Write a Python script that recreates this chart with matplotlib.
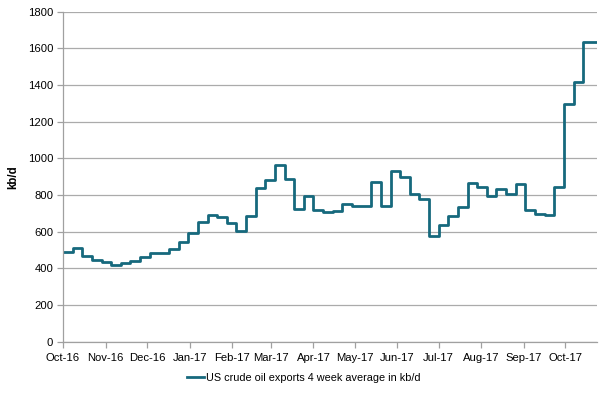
import matplotlib
matplotlib.use("Agg")
import matplotlib.pyplot as plt
import numpy as np
import datetime as dt

plt.rcParams['font.family'] = ['Liberation Sans', 'DejaVu Sans']

# weekly 4-week average of US crude oil exports, kb/d
start = dt.date(2016, 10, 1)
exports = [491, 509, 469, 446, 435, 418, 428, 442, 464, 482,
           482, 506, 545, 591, 655, 690, 682, 649, 605, 687,
           840, 882, 964, 887, 724, 797, 716, 709, 711, 750,
           740, 740, 869, 740, 929, 897, 806, 778, 578, 637,
           686, 737, 864, 846, 797, 831, 806, 860, 718, 697,
           690, 843, 1295, 1418, 1637, 1637]
weeks = [start + dt.timedelta(days=7 * i) for i in range(len(exports))]
month_labels = ["Oct-16", "Nov-16", "Dec-16", "Jan-17", "Feb-17", "Mar-17", "Apr-17",
                "May-17", "Jun-17", "Jul-17", "Aug-17", "Sep-17", "Oct-17"]
x_end = dt.date(2017, 10, 24)

fig = plt.figure(figsize=(6.06, 3.95), dpi=100)
ax = fig.add_axes([0.104, 0.135, 0.881, 0.835])

xs = weeks + [x_end]
ys = exports + [exports[-1]]
ax.step(xs, ys, where="post", color="#16697D", lw=2.0,
        label="US crude oil exports 4 week average in kb/d")

ax.set_ylim(0, 1800)
ax.set_yticks(range(0, 1801, 200))
ax.set_xlim(start, x_end)
month_ticks = [dt.date(2016 + (9 + m) // 12, (9 + m) % 12 + 1, 1) for m in range(len(month_labels))]
ax.set_xticks(month_ticks)
ax.set_xticklabels(month_labels)

ax.grid(axis="y", color="#ababab", lw=0.9)
ax.set_axisbelow(True)
for s in ["top", "right"]:
    ax.spines[s].set_visible(False)
for s in ["left", "bottom"]:
    ax.spines[s].set_color("#a0a0a0")
    ax.spines[s].set_linewidth(0.9)
ax.tick_params(axis="both", colors="#a0a0a0", labelcolor="black", labelsize=8.1, length=4, width=0.9)
ax.tick_params(axis="x", pad=4)
ax.tick_params(axis="y", pad=3)

ax.set_ylabel("kb/d", fontsize=8.3, fontweight="bold", labelpad=6)

fig.legend(loc="center", bbox_to_anchor=(0.501, 0.043), frameon=False, fontsize=7.8,
           handlelength=1.6, handletextpad=0.1)

fig.savefig("out.png", dpi=100)
